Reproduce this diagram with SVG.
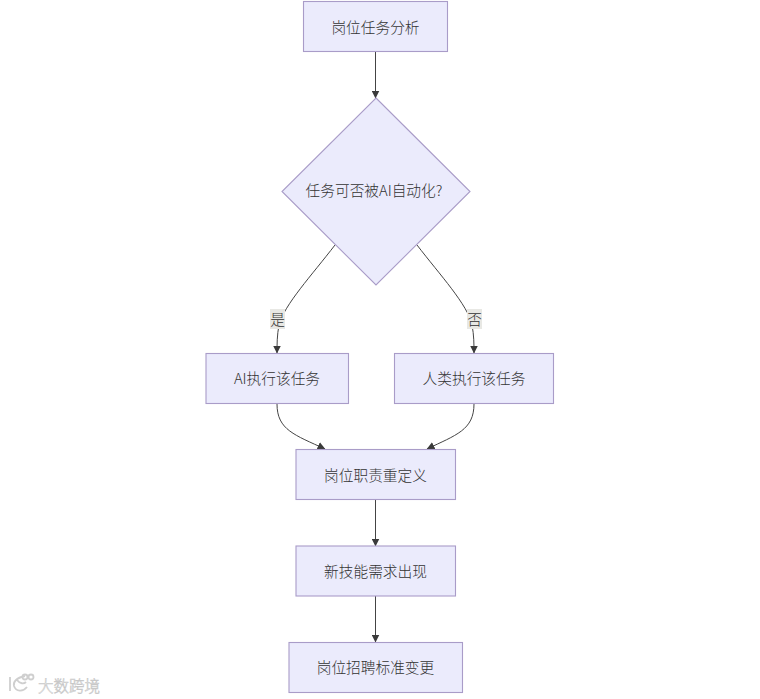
<svg xmlns="http://www.w3.org/2000/svg" width="760" height="699" viewBox="0 0 760 699">
<style>
text{font-family:"Noto Sans CJK SC","Liberation Sans",sans-serif;font-size:14.700px;font-weight:300;fill:#333;text-anchor:middle;dominant-baseline:central}
.n{fill:#ebebfc;stroke:#a99cc8;stroke-width:1.100}
.e{fill:none;stroke:#444;stroke-width:1}
.lb{fill:#e8e8e4}
.wm{font-size:15.500px;fill:#fff;stroke:#c8c8c8;stroke-width:.6;text-anchor:start}
.wl{fill:none;stroke:#cfcfcf;stroke-width:1.800}
</style>
<defs><marker id="a" markerWidth="8" markerHeight="8" refX="7.500" refY="4" orient="auto" markerUnits="userSpaceOnUse"><path d="M0 0L8 4L0 8z" fill="#3a3a3a"/></marker></defs>
<rect width="760" height="699" fill="#fff"/>
<g id="connectors">
<path class="e" marker-end="url(#a)" d="M375.500 52V98"/>
<path class="e" marker-end="url(#a)" d="M335 245C312 275 284 305 279 325C277 335 277 345 277 353"/>
<path class="e" marker-end="url(#a)" d="M417 245C440 275 468 305 472 325C474 335 474 345 474 353"/>
<path class="e" marker-end="url(#a)" d="M277 404C277 430 295 435 325 449"/>
<path class="e" marker-end="url(#a)" d="M474 404C474 430 456 435 427 449"/>
<path class="e" marker-end="url(#a)" d="M375.500 500V546"/>
<path class="e" marker-end="url(#a)" d="M375.500 596V642"/>
</g>
<g id="label-yes"><rect class="lb" x="270" y="309" width="15" height="20"/><text x="277.500" y="318">是</text></g>
<g id="label-no"><rect class="lb" x="467" y="309" width="15" height="20"/><text x="474.500" y="318">否</text></g>
<g id="n1"><rect class="n" x="303.500" y="1.500" width="144" height="50"/><text x="375.500" y="26.500">岗位任务分析</text></g>
<g id="n2"><polygon class="n" points="376,98 470,191.500 376,285 282,191.500"/><text x="374" y="189.500">任务可否被AI自动化?</text></g>
<g id="n3"><rect class="n" x="206" y="353.500" width="142.500" height="50"/><text x="277" y="377.500">AI执行该任务</text></g>
<g id="n4"><rect class="n" x="394.500" y="353.500" width="159" height="50"/><text x="474" y="377.500">人类执行该任务</text></g>
<g id="n5"><rect class="n" x="296" y="449.500" width="159.500" height="50"/><text x="375.500" y="474">岗位职责重定义</text></g>
<g id="n6"><rect class="n" x="296" y="546" width="159.500" height="50"/><text x="375.500" y="570.500">新技能需求出现</text></g>
<g id="n7"><rect class="n" x="289" y="642.500" width="173.500" height="50"/><text x="375.500" y="666.500">岗位招聘标准变更</text></g>
<g id="watermark">
<path class="wl" d="M10 677V691M25 676C16 678 13 682 14 686C16 692 23 692 27 687M17 680C20 684 24 684 26 682"/>
<circle class="wl" cx="25" cy="677" r="2.500"/><circle class="wl" cx="31" cy="677" r="2.500"/>
<text class="wm" x="38" y="685">大数跨境</text>
</g>
</svg>
